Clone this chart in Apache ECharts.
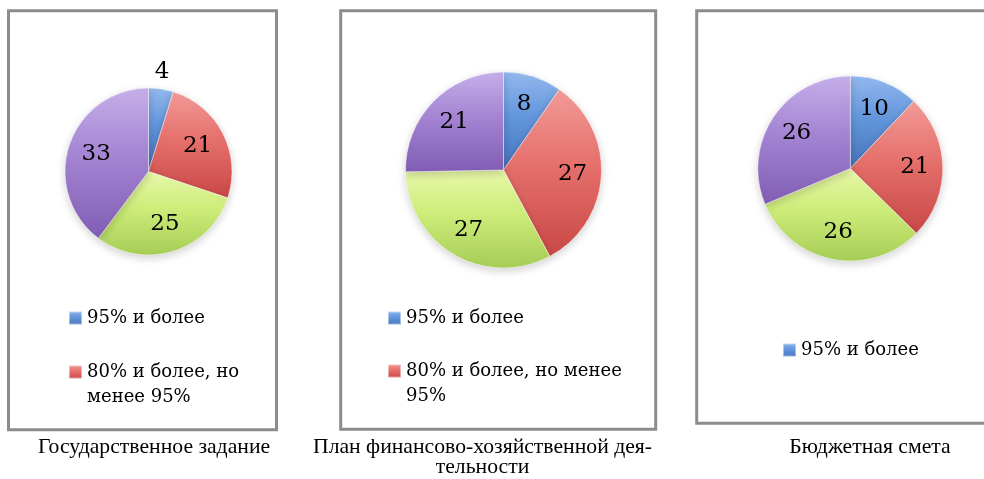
<!DOCTYPE html>
<html>
<head>
<meta charset="utf-8">
<script src="https://cdn.jsdelivr.net/npm/echarts@6/dist/echarts.min.js"></script>
<style>
  html, body { margin: 0; padding: 0; background: #ffffff; }
  #chart { width: 984px; height: 479px; }
</style>
</head>
<body>
<div id="chart"></div>
<script>
// Execution categories (share of plan fulfilment)
const categories = [
  '95% и более',
  '80% и более, но менее 95%',
  '50% и более, но менее 80%',
  'менее 50%'
];

// Number of institutions per category, by planning document
const stateTaskValues = [4, 21, 25, 33];
const financePlanValues = [8, 27, 27, 21];
const budgetEstimateValues = [10, 21, 26, 26];

// Captions under each panel
const stateTaskCaption = ['Государственное задание'];
const financePlanCaption = ['План финансово-хозяйственной дея-', 'тельности'];
const budgetEstimateCaption = ['Бюджетная смета'];

// Legend entries visible inside each panel frame
const stateTaskLegend = [0, 1];
const financePlanLegend = [0, 1];
const budgetEstimateLegend = [0];

// Bevel-like shading per category: light top, base, dark bottom
const shades = [
  ['#94b9ee', '#6396dc', '#4674bb'],
  ['#f29c99', '#e6706c', '#c84845'],
  ['#e9f9aa', '#cdec79', '#a6cd55'],
  ['#c6b0ea', '#a484d3', '#805db3']
];

function sliceFill(i) {
  const s = shades[i];
  return {
    type: 'linear', x: 0, y: 0, x2: 0, y2: 1,
    colorStops: [
      { offset: 0, color: s[0] },
      { offset: 0.45, color: s[1] },
      { offset: 1, color: s[2] }
    ]
  };
}

const labelFont = { fontFamily: 'DejaVu Serif', fontSize: 23, color: '#000' };
const legendFontSize = 18;
const legendFontFamily = 'DejaVu Serif';
const legendLineHeight = 25;

// Word wrap using real text metrics
const measureCtx = document.createElement('canvas').getContext('2d');
function wrapWords(text, maxWidth) {
  measureCtx.font = legendFontSize + 'px ' + legendFontFamily;
  const words = text.split(' ');
  const lines = [];
  let line = '';
  words.forEach(w => {
    const probe = line ? line + ' ' + w : w;
    if (line && measureCtx.measureText(probe).width > maxWidth) {
      lines.push(line);
      line = w;
    } else {
      line = probe;
    }
  });
  if (line) lines.push(line);
  return lines;
}

const panels = [
  {
    values: stateTaskValues, caption: stateTaskCaption, legend: stateTaskLegend,
    center: [148.5, 171.5], radius: 83.5, labelHole: 0.25, outsideLabel: 0,
    frame: { x: 8.5, y: 10.8, w: 268, h: 419 },
    legendLeft: 68, legendCenters: [318, 372], wrapWidth: 175,
    captionX: 154, captionY: 447
  },
  {
    values: financePlanValues, caption: financePlanCaption, legend: financePlanLegend,
    center: [503.5, 170], radius: 98, labelHole: 0.35, outsideLabel: -1,
    frame: { x: 340.7, y: 10.8, w: 315, h: 418.5 },
    legendLeft: 387, legendCenters: [318, 371], wrapWidth: 235,
    captionX: 482.5, captionY: 447
  },
  {
    values: budgetEstimateValues, caption: budgetEstimateCaption, legend: budgetEstimateLegend,
    center: [850.3, 168.5], radius: 92.5, labelHole: 0.33, outsideLabel: -1,
    frame: { x: 696.7, y: 10.8, w: 400, h: 412.5 },
    legendLeft: 782, legendCenters: [350], wrapWidth: 200,
    captionX: 870, captionY: 447
  }
];

const series = [];
const legends = [];
const graphics = [];

// Frames around each panel
panels.forEach(p => {
  graphics.push({
    type: 'rect', silent: true, z: 0,
    shape: { x: p.frame.x, y: p.frame.y, width: p.frame.w, height: p.frame.h },
    style: { fill: 'none', stroke: '#8c8c8c', lineWidth: 3 }
  });
});

// Visible pies
panels.forEach(p => {
  series.push({
    type: 'pie',
    center: p.center,
    radius: [0, p.radius],
    startAngle: 90,
    clockwise: true,
    silent: true,
    avoidLabelOverlap: false,
    label: { show: false },
    labelLine: { show: false },
    itemStyle: {
      borderColor: 'rgba(255,255,255,0.45)',
      borderWidth: 1,
      shadowBlur: 8,
      shadowColor: 'rgba(0,0,0,0.18)',
      shadowOffsetY: 3
    },
    emphasis: { disabled: true },
    data: p.values.map((v, i) => ({
      name: categories[i], value: v,
      itemStyle: { color: sliceFill(i) }
    }))
  });
});

// Value labels, laid out on a ring so they sit further out in each slice
panels.forEach(p => {
  series.push({
    type: 'pie',
    center: p.center,
    radius: [p.radius * p.labelHole, p.radius],
    startAngle: 90,
    clockwise: true,
    silent: true,
    avoidLabelOverlap: false,
    itemStyle: { color: 'rgba(0,0,0,0)' },
    emphasis: { disabled: true },
    label: Object.assign({ show: true, position: 'inside', formatter: '{c}' }, labelFont),
    labelLine: { show: false, length: 17, length2: 0 },
    data: p.values.map((v, i) => {
      const item = { name: categories[i], value: v };
      if (i === p.outsideLabel) {
        item.label = { position: 'outside', distanceToLabelLine: -9 };
      }
      return item;
    })
  });
});

// Legends: one component per entry; wrapped entries get a leading blank line
// so the marker stays level with the first text line
panels.forEach(p => {
  p.legend.forEach((ci, k) => {
    const name = categories[ci];
    const lines = wrapWords(name, p.wrapWidth);
    const multi = lines.length > 1;
    const iconCenter = p.legendCenters[k];
    const top = multi
      ? iconCenter - legendLineHeight * 1.5
      : iconCenter - legendLineHeight / 2;
    legends.push({
      show: true,
      orient: 'vertical',
      left: p.legendLeft,
      top: top,
      padding: 0,
      itemWidth: 13,
      itemHeight: 13,
      icon: 'rect',
      selectedMode: false,
      textStyle: {
        fontFamily: legendFontFamily,
        fontSize: legendFontSize,
        lineHeight: legendLineHeight,
        color: '#000'
      },
      formatter: () => (multi ? '\n' : '') + lines.join('\n'),
      data: [name]
    });
  });
});

// Captions under the panels
panels.forEach(p => {
  p.caption.forEach((line, i) => {
    graphics.push({
      type: 'text', silent: true,
      x: p.captionX, y: p.captionY + i * 20,
      style: {
        text: line,
        fontFamily: 'Liberation Serif',
        fontSize: 21.7,
        fill: '#000',
        align: 'center',
        verticalAlign: 'middle'
      }
    });
  });
});

const chart = echarts.init(document.getElementById('chart'), null, { renderer: 'canvas' });
chart.setOption({
  animation: false,
  backgroundColor: '#ffffff',
  legend: legends,
  graphic: graphics,
  series: series
});
</script>
</body>
</html>
